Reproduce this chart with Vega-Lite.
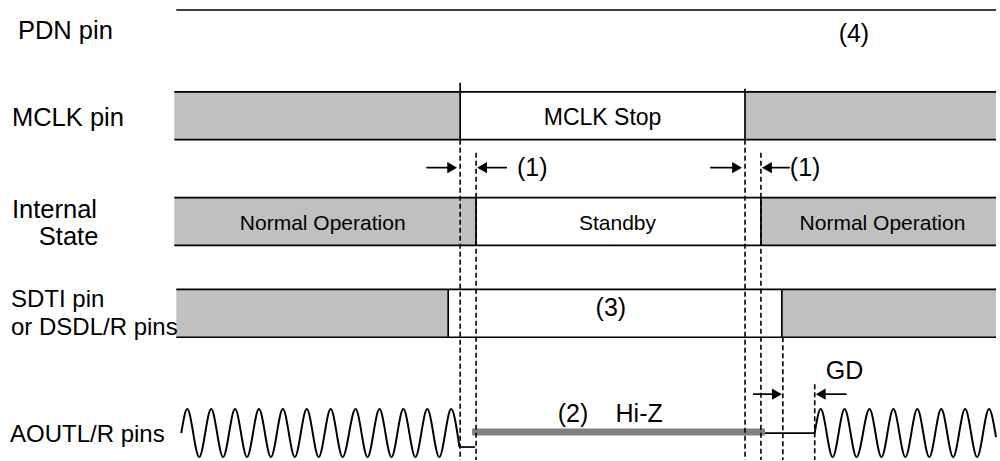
{
  "$schema": "https://vega.github.io/schema/vega-lite/v6.json",
  "width": 1000,
  "height": 461,
  "padding": 0,
  "autosize": {"type": "fit", "contains": "padding"},
  "background": "white",
  "config": {"view": {"stroke": null}, "font": "Liberation Sans"},
  "datasets": {
    "bands": [
      {"row": "MCLK", "x": 175, "x2": 462, "y": 92, "y2": 140},
      {"row": "MCLK", "x": 748, "x2": 1000, "y": 92, "y2": 140},
      {"row": "Internal", "x": 175, "x2": 478, "y": 198, "y2": 246},
      {"row": "Internal", "x": 764, "x2": 1000, "y": 198, "y2": 246},
      {"row": "SDTI", "x": 177, "x2": 450, "y": 290, "y2": 338},
      {"row": "SDTI", "x": 785, "x2": 1000, "y": 290, "y2": 338}
    ],
    "solid": [
      {"x": 177, "y": 10, "x2": 1000, "y2": 10},
      {"x": 175, "y": 92, "x2": 1000, "y2": 92},
      {"x": 175, "y": 140, "x2": 1000, "y2": 140},
      {"x": 462, "y": 83, "x2": 462, "y2": 140},
      {"x": 748, "y": 89, "x2": 748, "y2": 140},
      {"x": 175, "y": 198, "x2": 1000, "y2": 198},
      {"x": 175, "y": 246, "x2": 1000, "y2": 246},
      {"x": 478, "y": 198, "x2": 478, "y2": 246},
      {"x": 764, "y": 198, "x2": 764, "y2": 246},
      {"x": 177, "y": 290, "x2": 1000, "y2": 290},
      {"x": 177, "y": 338, "x2": 1000, "y2": 338},
      {"x": 450, "y": 290, "x2": 450, "y2": 338},
      {"x": 785, "y": 290, "x2": 785, "y2": 338},
      {"x": 461, "y": 445, "x2": 461, "y2": 448},
      {"x": 461, "y": 448, "x2": 477, "y2": 448},
      {"x": 768, "y": 434, "x2": 818, "y2": 434},
      {"x": 428, "y": 168, "x2": 452, "y2": 168},
      {"x": 486, "y": 168, "x2": 509, "y2": 168},
      {"x": 713, "y": 168, "x2": 738, "y2": 168},
      {"x": 772, "y": 168, "x2": 793, "y2": 168},
      {"x": 756, "y": 395, "x2": 778, "y2": 395},
      {"x": 826, "y": 395, "x2": 850, "y2": 395}
    ],
    "dashed": [
      {"x": 462, "y": 140, "x2": 462, "y2": 461},
      {"x": 478, "y": 153, "x2": 478, "y2": 461},
      {"x": 748, "y": 140, "x2": 748, "y2": 461},
      {"x": 764, "y": 153, "x2": 764, "y2": 461},
      {"x": 786, "y": 338, "x2": 786, "y2": 461},
      {"x": 818, "y": 385, "x2": 818, "y2": 461}
    ],
    "heads": [
      {"x": 454, "y": 168, "dir": "right"},
      {"x": 484, "y": 168, "dir": "left"},
      {"x": 740, "y": 168, "dir": "right"},
      {"x": 770, "y": 168, "dir": "left"},
      {"x": 780, "y": 395, "dir": "right"},
      {"x": 824, "y": 395, "dir": "left"}
    ],
    "hiz": [
      {"x": 474, "y": 433, "x2": 768, "y2": 433}
    ],
    "wave": [
      {"s": "L", "x": 182, "y": 434}, {"s": "L", "x": 188, "y": 410}, {"s": "L", "x": 200, "y": 458},
      {"s": "L", "x": 212, "y": 410}, {"s": "L", "x": 224, "y": 458}, {"s": "L", "x": 236, "y": 410},
      {"s": "L", "x": 248, "y": 458}, {"s": "L", "x": 260, "y": 410}, {"s": "L", "x": 272, "y": 458},
      {"s": "L", "x": 284, "y": 410}, {"s": "L", "x": 296, "y": 458}, {"s": "L", "x": 308, "y": 410},
      {"s": "L", "x": 320, "y": 458}, {"s": "L", "x": 332, "y": 410}, {"s": "L", "x": 344, "y": 458},
      {"s": "L", "x": 357, "y": 410}, {"s": "L", "x": 369, "y": 458}, {"s": "L", "x": 381, "y": 410},
      {"s": "L", "x": 393, "y": 458}, {"s": "L", "x": 405, "y": 410}, {"s": "L", "x": 417, "y": 458},
      {"s": "L", "x": 429, "y": 410}, {"s": "L", "x": 441, "y": 458}, {"s": "L", "x": 453, "y": 410},
      {"s": "L", "x": 461, "y": 446},
      {"s": "R", "x": 818, "y": 434}, {"s": "R", "x": 824, "y": 410}, {"s": "R", "x": 836, "y": 458},
      {"s": "R", "x": 848, "y": 410}, {"s": "R", "x": 860, "y": 458}, {"s": "R", "x": 873, "y": 410},
      {"s": "R", "x": 885, "y": 458}, {"s": "R", "x": 897, "y": 410}, {"s": "R", "x": 909, "y": 458},
      {"s": "R", "x": 921, "y": 410}, {"s": "R", "x": 933, "y": 458}, {"s": "R", "x": 945, "y": 410},
      {"s": "R", "x": 957, "y": 458}, {"s": "R", "x": 969, "y": 410}, {"s": "R", "x": 981, "y": 458},
      {"s": "R", "x": 993, "y": 410}, {"s": "R", "x": 1000, "y": 438}
    ],
    "labelsBig": [
      {"x": 18, "y": 39, "t": "PDN pin"},
      {"x": 12, "y": 126, "t": "MCLK pin"},
      {"x": 12, "y": 218, "t": "Internal"},
      {"x": 39, "y": 246, "t": "State"}
    ],
    "labelsMid": [
      {"x": 11, "y": 308, "t": "SDTI pin"},
      {"x": 11, "y": 336, "t": "or DSDL/R pins"},
      {"x": 10, "y": 443, "t": "AOUTL/R pins"}
    ],
    "bandText": [
      {"x": 324, "y": 231, "t": "Normal Operation"},
      {"x": 620, "y": 231, "t": "Standby"},
      {"x": 886, "y": 231, "t": "Normal Operation"}
    ],
    "stopText": [
      {"x": 605, "y": 125, "t": "MCLK Stop"}
    ],
    "annot": [
      {"x": 842, "y": 42, "t": "(4)"},
      {"x": 519, "y": 176, "t": "(1)"},
      {"x": 793, "y": 176, "t": "(1)"},
      {"x": 598, "y": 317, "t": "(3)"},
      {"x": 560, "y": 423, "t": "(2)"},
      {"x": 618, "y": 423, "t": "Hi-Z"},
      {"x": 829, "y": 380, "t": "GD"}
    ]
  },
  "encoding": {
    "x": {"field": "x", "type": "quantitative", "scale": {"domain": [0, 1000], "nice": false, "zero": false}, "axis": null},
    "y": {"field": "y", "type": "quantitative", "scale": {"domain": [0, 461], "nice": false, "zero": false, "reverse": true}, "axis": null}
  },
  "layer": [
    {
      "data": {"name": "bands"},
      "mark": {"type": "rect", "fill": "#c0c0c0", "stroke": null},
      "encoding": {"x2": {"field": "x2"}, "y2": {"field": "y2"}}
    },
    {
      "data": {"name": "hiz"},
      "mark": {"type": "rule", "color": "#808080", "strokeWidth": 7},
      "encoding": {"x2": {"field": "x2"}, "y2": {"field": "y2"}}
    },
    {
      "data": {"name": "dashed"},
      "mark": {"type": "rule", "color": "black", "strokeWidth": 1.6, "strokeDash": [5, 3]},
      "encoding": {"x2": {"field": "x2"}, "y2": {"field": "y2"}}
    },
    {
      "data": {"name": "solid"},
      "mark": {"type": "rule", "color": "black", "strokeWidth": 1.7},
      "encoding": {"x2": {"field": "x2"}, "y2": {"field": "y2"}}
    },
    {
      "data": {"name": "heads"},
      "mark": {"type": "point", "filled": true, "color": "black", "size": 130, "opacity": 1},
      "encoding": {
        "shape": {"field": "dir", "type": "nominal", "scale": {"domain": ["right", "left"], "range": ["triangle-right", "triangle-left"]}, "legend": null}
      }
    },
    {
      "data": {"name": "wave"},
      "mark": {"type": "line", "color": "black", "strokeWidth": 2, "interpolate": "monotone"},
      "encoding": {"detail": {"field": "s", "type": "nominal"}}
    },
    {
      "data": {"name": "labelsBig"},
      "mark": {"type": "text", "align": "left", "baseline": "alphabetic", "fontSize": 25.5, "color": "black"},
      "encoding": {"text": {"field": "t"}}
    },
    {
      "data": {"name": "labelsMid"},
      "mark": {"type": "text", "align": "left", "baseline": "alphabetic", "fontSize": 24, "color": "black"},
      "encoding": {"text": {"field": "t"}}
    },
    {
      "data": {"name": "bandText"},
      "mark": {"type": "text", "align": "center", "baseline": "alphabetic", "fontSize": 21, "color": "black"},
      "encoding": {"text": {"field": "t"}}
    },
    {
      "data": {"name": "stopText"},
      "mark": {"type": "text", "align": "center", "baseline": "alphabetic", "fontSize": 23, "color": "black"},
      "encoding": {"text": {"field": "t"}}
    },
    {
      "data": {"name": "annot"},
      "mark": {"type": "text", "align": "left", "baseline": "alphabetic", "fontSize": 25, "color": "black"},
      "encoding": {"text": {"field": "t"}}
    }
  ]
}
